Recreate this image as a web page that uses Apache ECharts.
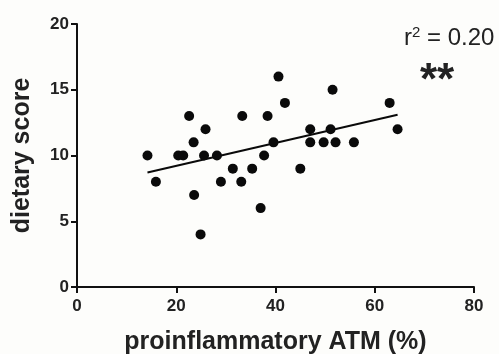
<!DOCTYPE html>
<html>
<head>
<meta charset="utf-8">
<script src="https://cdn.jsdelivr.net/npm/echarts@6/dist/echarts.min.js"></script>
<style>
  html, body { margin: 0; padding: 0; background: #fdfdfb; }
  #chart { width: 499px; height: 354px; }
</style>
</head>
<body>
<div id="chart"></div>
<script>
// proinflammatory ATM (%) per subject
const atmPercent = [14.2, 15.9, 20.4, 21.4, 22.6, 23.5, 23.6, 24.9, 25.6, 25.9, 28.2, 29.0, 31.4, 33.1, 33.3, 35.3,
  37.0, 37.7, 38.4, 39.6, 40.6, 41.9, 45.0, 47.0, 47.0, 49.7, 51.1, 51.5, 52.1, 55.8, 63.0, 64.6];
// dietary score per subject
const dietScore = [10, 8, 10, 10, 13, 11, 7, 4, 10, 12, 10, 8, 9, 8, 13, 9,
  6, 10, 13, 11, 16, 14, 9, 12, 11, 11, 12, 15, 11, 11, 14, 12];
// regression line endpoints as drawn
const fitX = [14.2, 64.6];
const fitY = [8.7, 13.1];

const xTicks = [0, 20, 40, 60, 80];
const yTicks = [0, 5, 10, 15, 20];

const chart = echarts.init(document.getElementById('chart'));

const font = 'Liberation Sans, Arial, sans-serif';
const axisFont = { fontFamily: font, fontWeight: 'bold', color: '#222' };

chart.setOption({
  animation: false,
  grid: { left: 77, top: 24, right: 25, bottom: 67, containLabel: false, outerBoundsMode: 'none' },
  xAxis: {
    type: 'value',
    min: xTicks[0],
    max: xTicks[xTicks.length - 1],
    interval: 20,
    name: 'proinflammatory ATM (%)',
    nameLocation: 'middle',
    nameGap: 43,
    nameTextStyle: { ...axisFont, fontSize: 25 },
    axisLine: { lineStyle: { color: '#111', width: 2 } },
    axisTick: { show: true, length: 6, lineStyle: { color: '#111', width: 2 } },
    axisLabel: { ...axisFont, fontSize: 17, margin: 11 },
    splitLine: { show: false }
  },
  yAxis: {
    type: 'value',
    min: yTicks[0],
    max: yTicks[yTicks.length - 1],
    interval: 5,
    name: 'dietary score',
    nameLocation: 'middle',
    nameGap: 42,
    nameRotate: 90,
    nameTextStyle: { ...axisFont, fontSize: 25 },
    axisLine: { show: true, lineStyle: { color: '#111', width: 2 } },
    axisTick: { show: true, length: 6, lineStyle: { color: '#111', width: 2 } },
    axisLabel: { ...axisFont, fontSize: 17, margin: 8 },
    splitLine: { show: false }
  },
  series: [
    {
      type: 'scatter',
      symbolSize: 10,
      itemStyle: { color: '#0a0a0a', opacity: 1 },
      data: atmPercent.map((x, i) => [x, dietScore[i]]),
      z: 3
    },
    {
      type: 'line',
      symbol: 'none',
      lineStyle: { color: '#0a0a0a', width: 2 },
      data: fitX.map((x, i) => [x, fitY[i]]),
      z: 2
    }
  ],
  graphic: [
    {
      type: 'text',
      left: 404,
      top: 25,
      style: {
        text: '{r|r}{sup|2}{r| = 0.20}',
        rich: {
          r: { fontFamily: font, fontSize: 24, fill: '#222' },
          sup: { fontFamily: font, fontSize: 15, fill: '#222', verticalAlign: 'top', padding: [0, 0, 11, 0] }
        }
      }
    },
    {
      type: 'text',
      left: 420,
      top: 60,
      style: {
        text: '**',
        fontFamily: font,
        fontSize: 44,
        fontWeight: 'bold',
        fill: '#222'
      }
    }
  ]
});
</script>
</body>
</html>
